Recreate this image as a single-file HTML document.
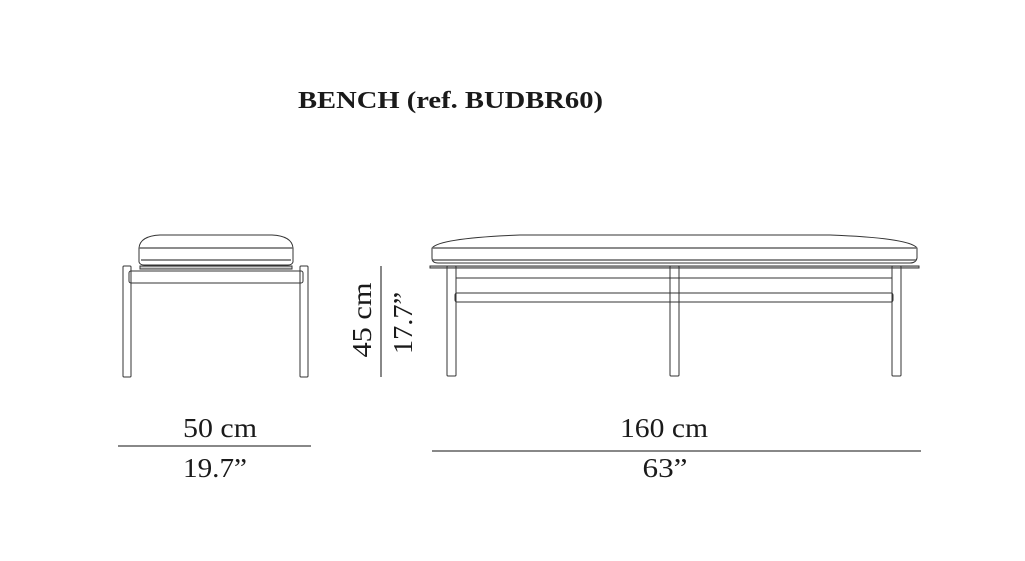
<!DOCTYPE html>
<html><head><meta charset="utf-8"><style>
html,body{margin:0;padding:0;background:#fff;}
svg{display:block;}
text{font-family:"Liberation Serif",serif;fill:#1a1a1a;}
</style></head><body>
<svg width="1025" height="561" viewBox="0 0 1025 561" xmlns="http://www.w3.org/2000/svg">
<text x="298" y="108" font-size="24" font-weight="bold" textLength="305" lengthAdjust="spacingAndGlyphs">BENCH (ref. BUDBR60)</text>
<g fill="none" stroke="#333" stroke-width="1">
<path d="M139 248 Q140 236 160 235 L272 235 Q292 236 293 248 L293 262 Q292 265 288 265 L144 265 Q140 265 139 262 Z"/>
<line x1="139" y1="248" x2="293" y2="248" stroke="#666" stroke-width="1.5"/>
<line x1="141" y1="260" x2="291" y2="260" stroke="#666" stroke-width="1.5"/>
<rect x="140" y="266" width="152" height="3" fill="#ccc"/>
<rect x="129" y="271" width="174" height="12" rx="2"/>
<rect x="123" y="266" width="8" height="111" rx="1"/>
<rect x="300" y="266" width="8" height="111" rx="1"/>
<line x1="381" y1="266" x2="381" y2="377" stroke="#111"/>
<path d="M432 248 Q440 238 520 235 L830 235 Q910 238 917 248 L917 258 Q916 263 910 263 L438 263 Q432 263 432 258 Z"/>
<line x1="432" y1="248" x2="917" y2="248" stroke="#666" stroke-width="1.5"/>
<line x1="433" y1="260" x2="916" y2="260" stroke="#666" stroke-width="1.5"/>
<rect x="430" y="266" width="489" height="2" fill="#ccc"/>
<line x1="456" y1="278" x2="892" y2="278"/>
<rect x="455" y="293" width="438" height="9" rx="2"/>
<rect x="447" y="266" width="9" height="110" rx="1"/>
<rect x="670" y="266" width="9" height="110" rx="1"/>
<rect x="892" y="266" width="9" height="110" rx="1"/>
<line x1="118" y1="446" x2="311" y2="446" stroke="#111"/>
<line x1="432" y1="451" x2="921" y2="451" stroke="#111"/>
</g>
<text x="371" y="320" font-size="27" text-anchor="middle" textLength="75" lengthAdjust="spacingAndGlyphs" transform="rotate(-90 371 320)">45 cm</text>
<text x="412" y="323" font-size="27" text-anchor="middle" textLength="62" lengthAdjust="spacingAndGlyphs" transform="rotate(-90 412 323)">17.7”</text>
<text x="220" y="437" font-size="27" text-anchor="middle" textLength="74" lengthAdjust="spacingAndGlyphs">50 cm</text>
<text x="215" y="477" font-size="27" text-anchor="middle" textLength="64" lengthAdjust="spacingAndGlyphs">19.7”</text>
<text x="664" y="437" font-size="27" text-anchor="middle" textLength="88" lengthAdjust="spacingAndGlyphs">160 cm</text>
<text x="665" y="477" font-size="27" text-anchor="middle" textLength="45" lengthAdjust="spacingAndGlyphs">63”</text>
</svg>
</body></html>
